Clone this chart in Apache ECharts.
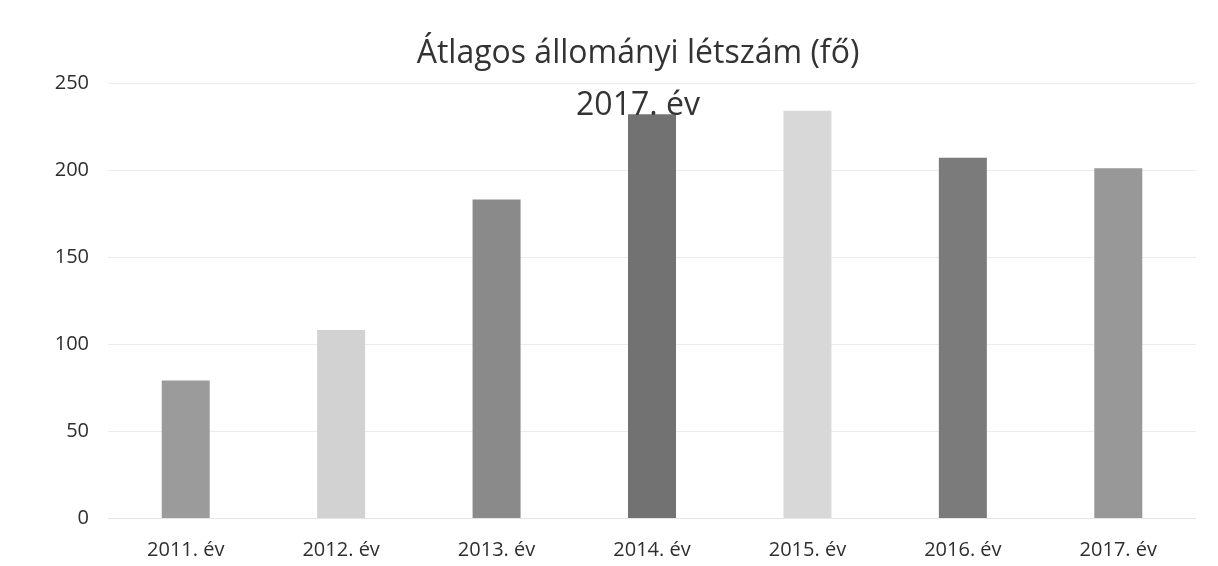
<!DOCTYPE html>
<html>
<head>
<meta charset="utf-8">
<script src="https://cdn.jsdelivr.net/npm/echarts@6/dist/echarts.min.js"></script>
<style>
html,body{margin:0;padding:0;background:#fff;}
#c{width:1218px;height:566px;}
</style>
</head>
<body>
<div id="c"></div>
<script>
const categories = ['2011. év','2012. év','2013. év','2014. év','2015. év','2016. év','2017. év'];
const values = [79, 108, 183, 232, 234, 207, 201];
const barColors = ['#9b9b9b','#d2d2d2','#8a8a8a','#727272','#d8d8d8','#7b7b7b','#989898'];
const yTicks = [0, 50, 100, 150, 200, 250];

const chart = echarts.init(document.getElementById('c'));
chart.setOption({
  backgroundColor: '#ffffff',
  animation: false,
  title: {
    text: 'Átlagos állományi létszám (fő)\n2017. év',
    left: 633,
    top: 23,
    textAlign: 'center',
    textStyle: {
      fontFamily: 'Open Sans',
      fontSize: 32,
      fontWeight: 'normal',
      color: '#333333',
      lineHeight: 52
    }
  },
  grid: { left: 108, right: 22, top: 83, bottom: 48 },
  xAxis: {
    type: 'category',
    data: categories,
    axisLine: { show: true, lineStyle: { color: '#e6e6e6' } },
    axisTick: { show: false },
    axisLabel: { fontFamily: 'Open Sans', fontSize: 20, color: '#2e2e2e', margin: 22 }
  },
  yAxis: {
    type: 'value',
    min: yTicks[0],
    max: yTicks[yTicks.length - 1],
    interval: 50,
    axisLine: { show: false },
    axisTick: { show: false },
    splitLine: { lineStyle: { color: '#ececec' } },
    axisLabel: { fontFamily: 'Open Sans', fontSize: 20, color: '#2e2e2e', margin: 19 }
  },
  series: [{
    type: 'bar',
    data: values.map((v, i) => ({ value: v, itemStyle: { color: barColors[i] } })),
    barWidth: 48
  }]
});
</script>
</body>
</html>
